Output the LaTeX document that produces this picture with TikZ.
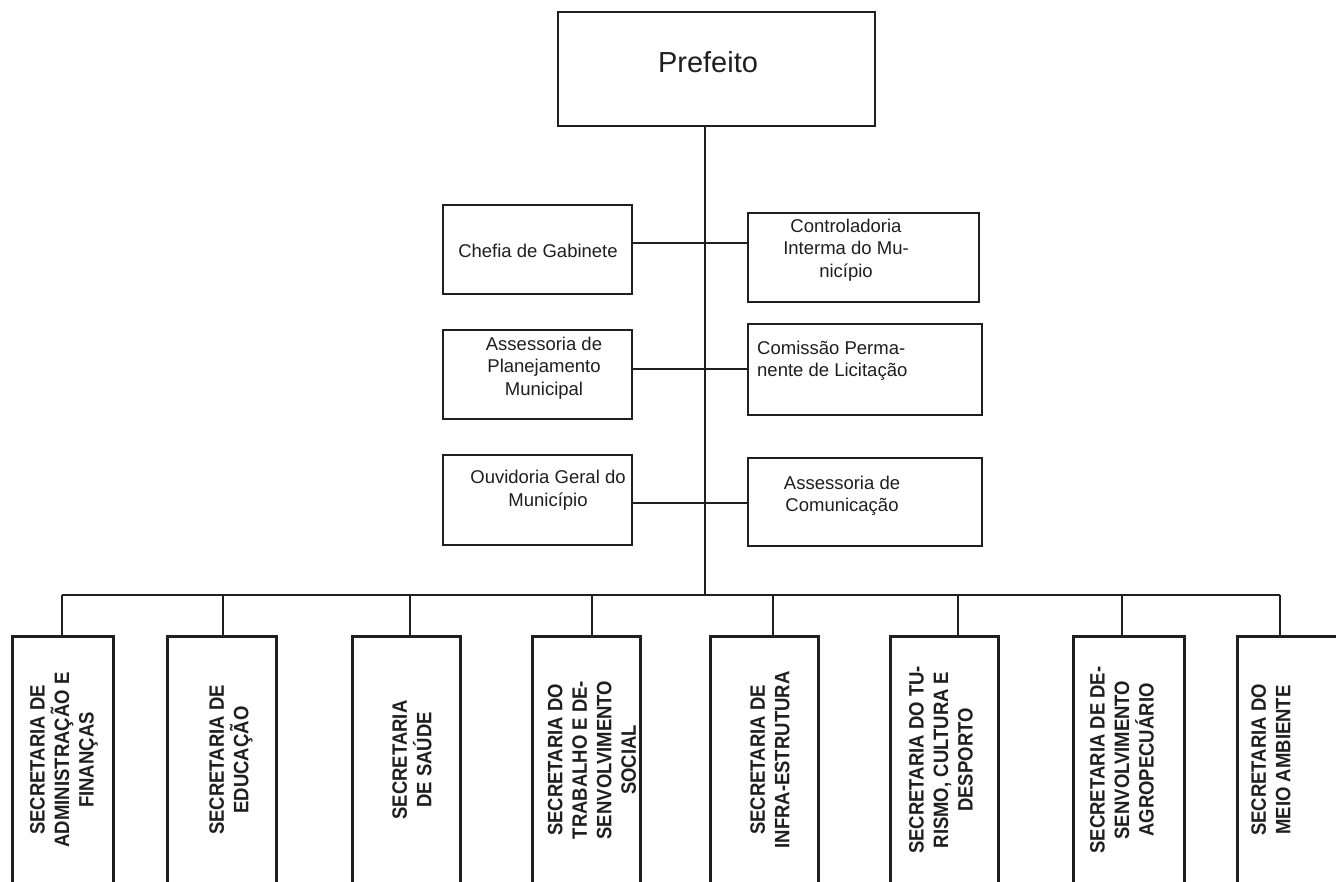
\documentclass[tikz,border=0pt]{standalone}
\usepackage{fontspec}
\setmainfont{Liberation Sans}
\newfontfamily\secfont[FakeStretch=0.89]{Liberation Sans}
\begin{document}
\begin{tikzpicture}[x=1pt,y=-1pt,
  ink/.style={black!88},
  box/.style={draw, line width=2.4pt, inner sep=0pt, ink},
  secbox/.style={draw, line width=3pt, inner sep=0pt, ink, minimum width=108pt, minimum height=250pt},
  link/.style={line width=1.8pt, ink},
  mid/.style={font=\fontsize{18.5}{22.5}\selectfont, align=center, ink, inner sep=0pt},
  sec/.style={font=\secfont\fontsize{20.8}{24.5}\selectfont\bfseries, align=center, ink, rotate=90, inner sep=0pt}]
\useasboundingbox (0,0) rectangle (1336,881);
\clip (0,0) rectangle (1336,881);
\fill[white] (0,0) rectangle (1336,881);

% top
\node[box, minimum width=317pt, minimum height=114pt] (pref) at (716.5,69) {};
\node[font=\fontsize{29}{34}\selectfont, ink, inner sep=0pt] (preft) at (708,62) {Prefeito};

% middle boxes
\node[box, minimum width=189pt, minimum height=89pt] (chef) at (537.5,249.5) {};
\node[box, minimum width=231pt, minimum height=89pt] (ctrl) at (863.5,257.5) {};
\node[box, minimum width=189pt, minimum height=89pt] (plan) at (537.5,374.5) {};
\node[box, minimum width=234pt, minimum height=91pt] (comi) at (865,369.5) {};
\node[box, minimum width=189pt, minimum height=90pt] (ouvi) at (537.5,500) {};
\node[box, minimum width=234pt, minimum height=88pt] (comu) at (865,502) {};

\node[mid] (chef-t) at (538,251) {Chefia de Gabinete};
\node[mid] (ctrl-t) at (846,250) {Controladoria\\Interma do Mu-\\nicípio};
\node[mid] (plan-t) at (544,368) {Assessoria de\\Planejamento\\Municipal};
\node[mid, align=left, anchor=west] (comi-t) at (757,361) {Comissão Perma-\\nente de Licitação};
\node[mid] (ouvi-t) at (548,490) {Ouvidoria Geral do\\Município};
\node[mid] (comu-t) at (842,496) {Assessoria de\\Comunicação};

% secretarias
\node[secbox, minimum width=101pt] (s1) at (62.5,761) {};
\node[secbox, minimum width=109pt] (s2) at (221.5,761) {};
\node[secbox] (s3) at (406,761) {};
\node[secbox] (s4) at (586,761) {};
\node[secbox] (s5) at (764,761) {};
\node[secbox] (s6) at (944,761) {};
\node[secbox, minimum width=111pt] (s7) at (1128.5,761) {};
\node[secbox] (s8) at (1291,761) {};

\node[sec] (s1t) at (64,760) {SECRETARIA DE\\ADMINISTRAÇÃO E\\FINANÇAS};
\node[sec] (s2t) at (231,760) {SECRETARIA DE\\EDUCAÇÃO};
\node[sec] (s3t) at (412,760) {SECRETARIA\\DE SAÚDE};
\node[sec] (s4t) at (592,760) {SECRETARIA DO\\TRABALHO E DE-\\SENVOLVIMENTO\\SOCIAL};
\node[sec] (s5t) at (770,760) {SECRETARIA DE\\INFRA-ESTRUTURA};
\node[sec] (s6t) at (941,760) {SECRETARIA DO TU-\\RISMO, CULTURA E\\DESPORTO};
\node[sec] (s7t) at (1122,760) {SECRETARIA DE DE-\\SENVOLVIMENTO\\AGROPECUÁRIO};
\node[sec] (s8t) at (1271,760) {SECRETARIA DO\\MEIO AMBIENTE};

% connectors
\coordinate (bus) at (705,595);
\coordinate (r1) at (705,243);
\coordinate (r2) at (705,369);
\coordinate (r3) at (705,503);
\draw[link] (pref.south -| bus) -- (bus);
\draw[link] (chef.east |- r1) -- (ctrl.west |- r1);
\draw[link] (plan.east |- r2) -- (comi.west |- r2);
\draw[link] (ouvi.east |- r3) -- (comu.west |- r3);

\coordinate (d1) at (62,595);
\coordinate (d2) at (223,595);
\coordinate (d3) at (410,595);
\coordinate (d4) at (592,595);
\coordinate (d5) at (773,595);
\coordinate (d6) at (958,595);
\coordinate (d7) at (1122,595);
\coordinate (d8) at (1280,595);
\draw[link] (d1) -- (d8);
\draw[link] (d1) -- (d1 |- s1.north);
\draw[link] (d2) -- (d2 |- s2.north);
\draw[link] (d3) -- (d3 |- s3.north);
\draw[link] (d4) -- (d4 |- s4.north);
\draw[link] (d5) -- (d5 |- s5.north);
\draw[link] (d6) -- (d6 |- s6.north);
\draw[link] (d7) -- (d7 |- s7.north);
\draw[link] (d8) -- (d8 |- s8.north);
\end{tikzpicture}
\end{document}
